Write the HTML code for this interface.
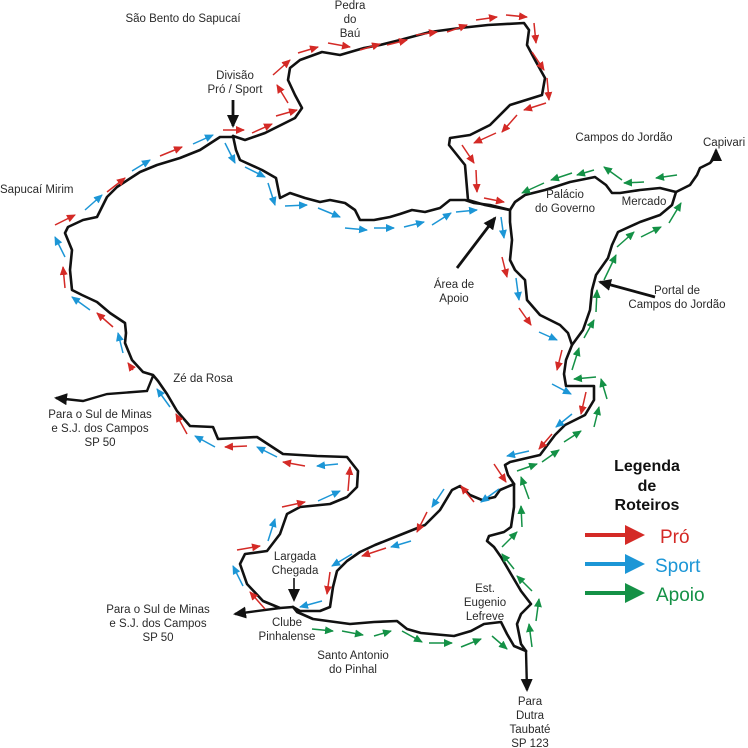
<!DOCTYPE html>
<html><head><meta charset="utf-8"><style>
html,body{margin:0;padding:0;background:#fff}
svg{display:block}
text{font-family:"Liberation Sans",Arial,sans-serif;font-size:11.5px;fill:#2a2a2a}
</style></head><body>
<svg width="748" height="748" viewBox="0 0 748 748" xmlns="http://www.w3.org/2000/svg">
<defs>
<marker id="mr" markerUnits="userSpaceOnUse" markerWidth="10" markerHeight="8" refX="8" refY="4" orient="auto"><path d="M0,0 L9,4 L0,8 z" fill="#d42a26"/></marker>
<marker id="mb" markerUnits="userSpaceOnUse" markerWidth="10" markerHeight="8" refX="8" refY="4" orient="auto"><path d="M0,0 L9,4 L0,8 z" fill="#1c96d6"/></marker>
<marker id="mg" markerUnits="userSpaceOnUse" markerWidth="10" markerHeight="8" refX="8" refY="4" orient="auto"><path d="M0,0 L9,4 L0,8 z" fill="#149146"/></marker>
<marker id="mk" markerUnits="userSpaceOnUse" markerWidth="14" markerHeight="12" refX="11" refY="6" orient="auto"><path d="M0,0 L13,6 L0,12 z" fill="#111"/></marker>
</defs>
<g fill="none" stroke="#111" stroke-width="2.6" stroke-linejoin="round" stroke-linecap="round">
<polyline points="233,136 245,140 265,133 295,118 302,108 295,95 288,80 290,68 300,60 322,52 340,55 364,48 380,45 400,40 430,32 460,28 488,25 524,23 529,30 527,45 535,60 545,78 542,95 510,105 490,125 470,135 450,138 449,145 465,165 468,200 485,205 510,210"/>
<polyline points="233,136 236,150 240,160 262,170 276,178 280,198 290,193 305,198 320,202 330,200 345,203 355,210 360,220 374,220 390,217 400,214 412,210 425,212 440,208 450,200 465,200 474,203 490,205 510,210"/>
<polyline points="510,210 515,202 525,195 545,190 570,182 595,177 606,185 612,193 620,193 640,190 660,188 676,192"/>
<polyline points="676,192 690,185 697,175 700,168 710,163 716,156"/>
<polyline points="676,192 672,205 660,215 640,222 618,232 612,245 608,258 596,275 592,290 590,310 583,330 572,345"/>
<polyline points="510,210 510,222 512,240 510,260 515,270 525,280 527,300 540,315 560,325 568,333 572,345 566,360 564,374 566,386 594,386 594,400 585,415 565,425 555,435 540,455 510,462 505,465 508,475 514,484"/>
<polyline points="514,484 514,507 511,527 504,532 489,536 487,541 494,547 501,557 511,574 521,591 531,604 521,614 517,624 521,644 526,651"/>
<polyline points="514,484 500,490 495,497 482,500 470,495 460,486 452,490 440,510 425,525 400,535 375,545 360,552 347,561 337,571 333,587 330,607 320,611 300,611 293,607"/>
<polyline points="293,607 297,612 313,619 350,624 374,622 397,621 407,629 421,633 454,636 471,631 484,624 501,622 507,634 514,646 526,651"/>
<polyline points="233,137 220,137 200,150 180,158 157,165 140,172 117,187 107,197 97,217 83,220 68,227 65,233 72,250 70,270 72,290 82,295 97,302 110,313 125,323 126,333 125,343 132,360 143,372 153,375 158,381 167,394 177,411 190,426 213,427 218,439 257,437 283,454 317,456 347,457 358,471 357,487 347,497 330,504 300,507 287,514 280,534 267,551 245,554 240,564 247,584 263,601 280,608 293,607"/>
</g>
<g fill="none" stroke="#111" stroke-width="2.4">
<polyline points="153,376 147,391 107,394 83,401 56,398" marker-end="url(#mk)"/>
<polyline points="280,608 235,614" marker-end="url(#mk)"/>
<polyline points="526,651 527,690" marker-end="url(#mk)"/>
<polyline points="716,156 716,150" marker-end="url(#mk)"/>
<line x1="233" y1="100" x2="233" y2="126" stroke-width="2.8" marker-end="url(#mk)"/>
<line x1="457" y1="268" x2="495" y2="218" stroke-width="2.8" marker-end="url(#mk)"/>
<line x1="655" y1="297" x2="600" y2="282" stroke-width="2.8" marker-end="url(#mk)"/>
<line x1="294" y1="578" x2="294" y2="600" stroke-width="1.6" marker-end="url(#mk)"/>
</g>
<g stroke="#d42a26" stroke-width="1.5" marker-end="url(#mr)">
<line x1="223" y1="130" x2="244" y2="130"/><line x1="252" y1="133" x2="272" y2="124"/><line x1="276" y1="116" x2="297" y2="110"/>
<line x1="288" y1="103" x2="277" y2="85"/><line x1="273" y1="75" x2="290" y2="60"/><line x1="298" y1="53" x2="318" y2="47"/>
<line x1="328" y1="43" x2="350" y2="47"/><line x1="360" y1="50" x2="380" y2="44"/><line x1="387" y1="45" x2="407" y2="40"/>
<line x1="416" y1="35" x2="437" y2="32"/><line x1="447" y1="32" x2="467" y2="25"/><line x1="476" y1="20" x2="497" y2="17"/>
<line x1="506" y1="15" x2="527" y2="17"/><line x1="534" y1="23" x2="536" y2="43"/><line x1="532" y1="52" x2="544" y2="70"/>
<line x1="547" y1="78" x2="549" y2="100"/><line x1="546" y1="103" x2="524" y2="110"/><line x1="517" y1="115" x2="502" y2="132"/>
<line x1="496" y1="133" x2="474" y2="143"/><line x1="462" y1="145" x2="474" y2="163"/><line x1="476" y1="170" x2="477" y2="192"/>
<line x1="484" y1="198" x2="504" y2="202"/><line x1="502" y1="257" x2="507" y2="277"/><line x1="519" y1="308" x2="531" y2="325"/>
<line x1="562" y1="350" x2="557" y2="370"/><line x1="586" y1="392" x2="581" y2="414"/><line x1="552" y1="434" x2="539" y2="449"/>
<line x1="494" y1="464" x2="506" y2="482"/><line x1="474" y1="502" x2="461" y2="486"/><line x1="427" y1="512" x2="417" y2="532"/>
<line x1="386" y1="548" x2="362" y2="556"/><line x1="330" y1="572" x2="327" y2="594"/>
<line x1="55" y1="225" x2="75" y2="215"/><line x1="107" y1="192" x2="125" y2="178"/><line x1="160" y1="156" x2="182" y2="147"/>
<line x1="65" y1="288" x2="63" y2="267"/><line x1="113" y1="327" x2="97" y2="313"/><line x1="133" y1="370" x2="128" y2="363"/>
<line x1="187" y1="434" x2="176" y2="414"/><line x1="247" y1="446" x2="225" y2="447"/><line x1="305" y1="466" x2="283" y2="462"/>
<line x1="348" y1="491" x2="350" y2="467"/><line x1="282" y1="507" x2="305" y2="502"/><line x1="237" y1="550" x2="260" y2="546"/>
<line x1="265" y1="609" x2="250" y2="592"/>
</g>
<g stroke="#1c96d6" stroke-width="1.5" marker-end="url(#mb)">
<line x1="225" y1="143" x2="235" y2="163"/><line x1="245" y1="167" x2="265" y2="177"/><line x1="268" y1="183" x2="275" y2="205"/>
<line x1="285" y1="206" x2="307" y2="205"/><line x1="318" y1="208" x2="340" y2="217"/><line x1="345" y1="228" x2="367" y2="230"/>
<line x1="374" y1="228" x2="394" y2="228"/><line x1="404" y1="227" x2="424" y2="222"/><line x1="432" y1="225" x2="451" y2="213"/>
<line x1="456" y1="212" x2="477" y2="210"/><line x1="501" y1="217" x2="504" y2="238"/><line x1="516" y1="278" x2="519" y2="300"/>
<line x1="539" y1="332" x2="557" y2="340"/><line x1="552" y1="384" x2="571" y2="394"/><line x1="572" y1="414" x2="556" y2="427"/>
<line x1="529" y1="451" x2="507" y2="456"/><line x1="499" y1="489" x2="481" y2="502"/><line x1="444" y1="489" x2="432" y2="507"/>
<line x1="411" y1="541" x2="391" y2="547"/><line x1="352" y1="554" x2="332" y2="566"/><line x1="322" y1="601" x2="300" y2="607"/>
<line x1="85" y1="210" x2="102" y2="195"/><line x1="132" y1="171" x2="150" y2="160"/><line x1="193" y1="144" x2="213" y2="135"/>
<line x1="65" y1="257" x2="55" y2="237"/><line x1="90" y1="310" x2="72" y2="297"/><line x1="123" y1="353" x2="118" y2="333"/>
<line x1="170" y1="407" x2="157" y2="389"/><line x1="215" y1="447" x2="195" y2="436"/><line x1="277" y1="457" x2="257" y2="447"/>
<line x1="338" y1="464" x2="317" y2="466"/><line x1="318" y1="501" x2="340" y2="491"/><line x1="268" y1="541" x2="275" y2="519"/>
<line x1="243" y1="586" x2="233" y2="566"/>
</g>
<g stroke="#149146" stroke-width="1.5" marker-end="url(#mg)">
<line x1="572" y1="370" x2="579" y2="348"/><line x1="584" y1="338" x2="594" y2="320"/><line x1="596" y1="312" x2="597" y2="290"/>
<line x1="604" y1="280" x2="616" y2="255"/><line x1="617" y1="247" x2="634" y2="232"/><line x1="641" y1="237" x2="661" y2="227"/>
<line x1="669" y1="223" x2="681" y2="203"/><line x1="677" y1="175" x2="656" y2="178"/><line x1="644" y1="182" x2="624" y2="183"/>
<line x1="622" y1="180" x2="604" y2="167"/><line x1="594" y1="170" x2="577" y2="175"/><line x1="572" y1="173" x2="551" y2="180"/>
<line x1="544" y1="183" x2="522" y2="193"/>
<line x1="596" y1="377" x2="574" y2="379"/><line x1="607" y1="399" x2="601" y2="379"/><line x1="594" y1="427" x2="599" y2="407"/>
<line x1="564" y1="442" x2="581" y2="431"/><line x1="542" y1="462" x2="559" y2="450"/><line x1="517" y1="471" x2="537" y2="464"/>
<line x1="529" y1="499" x2="521" y2="477"/><line x1="522" y1="527" x2="521" y2="506"/><line x1="502" y1="547" x2="517" y2="532"/>
<line x1="514" y1="569" x2="502" y2="554"/><line x1="532" y1="591" x2="517" y2="576"/><line x1="536" y1="621" x2="539" y2="599"/>
<line x1="532" y1="647" x2="529" y2="624"/>
<line x1="312" y1="629" x2="333" y2="631"/><line x1="342" y1="631" x2="363" y2="635"/><line x1="374" y1="636" x2="391" y2="631"/>
<line x1="402" y1="631" x2="422" y2="642"/><line x1="429" y1="643" x2="452" y2="643"/><line x1="461" y1="647" x2="481" y2="639"/>
<line x1="492" y1="636" x2="507" y2="649"/>
</g>
<g stroke-width="4">
<line x1="585" y1="535" x2="628" y2="535" stroke="#d42a26"/><path d="M625,525 L645,535 L625,545 z" fill="#d42a26"/>
<line x1="585" y1="564" x2="628" y2="564" stroke="#1c96d6"/><path d="M625,554 L645,564 L625,574 z" fill="#1c96d6"/>
<line x1="585" y1="593" x2="628" y2="593" stroke="#149146"/><path d="M625,583 L645,593 L625,603 z" fill="#149146"/>
</g>
<text x="647" y="471" text-anchor="middle" style="font-weight:bold;font-size:16px;fill:#111">Legenda</text>
<text x="647" y="491" text-anchor="middle" style="font-weight:bold;font-size:16px;fill:#111">de</text>
<text x="647" y="510" text-anchor="middle" style="font-weight:bold;font-size:16px;fill:#111">Roteiros</text>
<text x="660" y="543" style="font-size:19px;fill:#d42a26">Pró</text>
<text x="655" y="572" style="font-size:19px;fill:#1c96d6">Sport</text>
<text x="656" y="601" style="font-size:19px;fill:#149146">Apoio</text>
<g text-anchor="middle">
<text x="183" y="22">São Bento do Sapucaí</text>
<text x="350" y="9">Pedra</text><text x="350" y="23">do</text><text x="350" y="37">Baú</text>
<text x="235" y="79">Divisão</text><text x="235" y="93">Pró / Sport</text>
<text x="624" y="141">Campos do Jordão</text>
<text x="565" y="198">Palácio</text><text x="565" y="212">do Governo</text>
<text x="644" y="205">Mercado</text>
<text x="454" y="288">Área de</text><text x="454" y="302">Apoio</text>
<text x="677" y="294">Portal de</text><text x="677" y="308">Campos do Jordão</text>
<text x="203" y="382">Zé da Rosa</text>
<text x="100" y="418">Para o Sul de Minas</text><text x="100" y="432">e S.J. dos Campos</text><text x="100" y="446">SP 50</text>
<text x="295" y="560">Largada</text><text x="295" y="574">Chegada</text>
<text x="158" y="613">Para o Sul de Minas</text><text x="158" y="627">e S.J. dos Campos</text><text x="158" y="641">SP 50</text>
<text x="287" y="626">Clube</text><text x="287" y="640">Pinhalense</text>
<text x="353" y="659">Santo Antonio</text><text x="353" y="673">do Pinhal</text>
<text x="485" y="592">Est.</text><text x="485" y="606">Eugenio</text><text x="485" y="620">Lefreve</text>
<text x="530" y="705">Para</text><text x="530" y="719">Dutra</text><text x="530" y="733">Taubaté</text><text x="530" y="747">SP 123</text>
</g>
<text x="0" y="193">Sapucaí Mirim</text>
<text x="703" y="146">Capivari</text>
</svg>
</body></html>
